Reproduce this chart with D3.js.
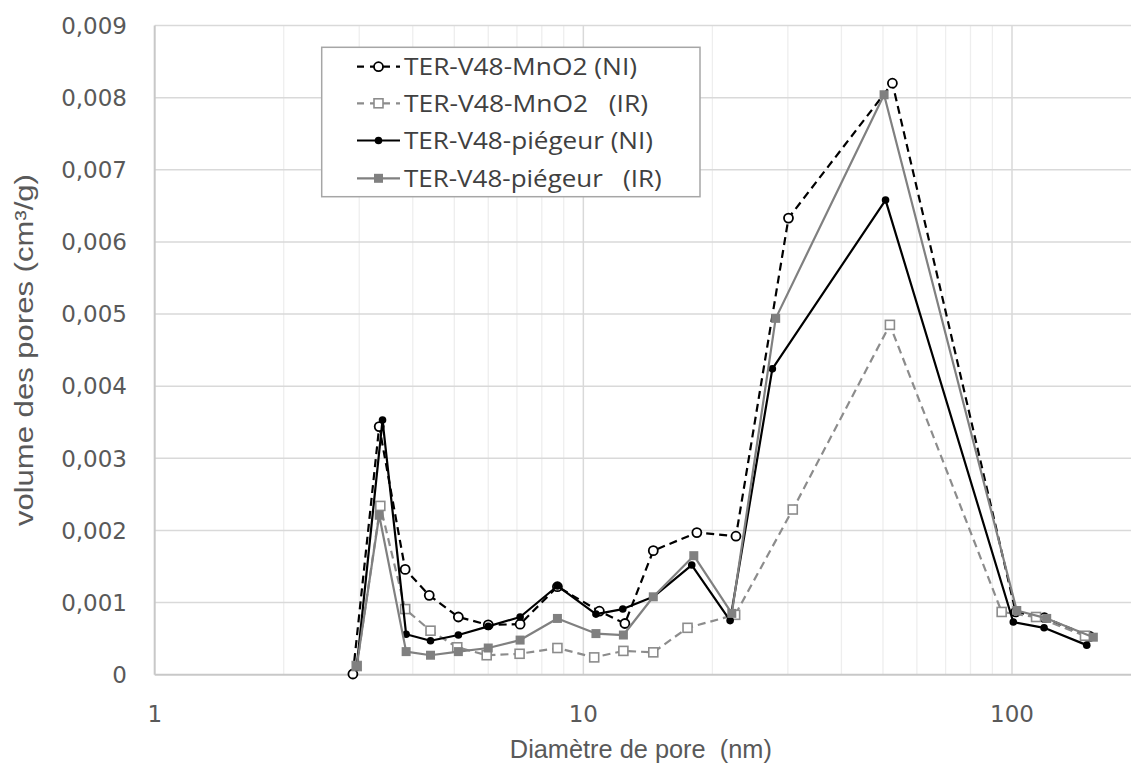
<!DOCTYPE html>
<html><head><meta charset="utf-8">
<script src="https://cdn.jsdelivr.net/npm/d3@7/dist/d3.min.js"></script>
<style>
html,body{margin:0;padding:0;background:#fff;}
svg{display:block;}
text{white-space:pre;}
</style></head>
<body>
<svg id="chart" width="1131" height="767"></svg>
<script>
// ---- data ----
const seriesNames = ["TER-V48-MnO2 (NI)", "TER-V48-MnO2   (IR)", "TER-V48-piégeur (NI)", "TER-V48-piégeur   (IR)"];
const mnO2NI_x = [2.9, 3.34, 3.84, 4.37, 5.11, 6.0, 7.12, 8.7, 10.9, 12.5, 14.56, 18.4, 22.7, 30.1, 52.6, 102, 119, 152];
const mnO2NI_y = [0.00001, 0.00344, 0.00146, 0.00110, 0.00080, 0.00069, 0.00070, 0.00122, 0.00088, 0.00071, 0.00172, 0.00197, 0.00192, 0.00633, 0.00820, 0.00087, 0.00079, 0.00053];
const mnO2IR_x = [2.96, 3.36, 3.84, 4.40, 5.08, 5.95, 7.1, 8.7, 10.6, 12.4, 14.56, 17.5, 22.6, 30.8, 51.9, 94.6, 113.8, 148];
const mnO2IR_y = [0.00012, 0.00234, 0.00091, 0.00061, 0.00038, 0.00027, 0.00029, 0.00037, 0.00024, 0.00033, 0.00031, 0.00065, 0.00083, 0.00229, 0.00485, 0.00087, 0.00080, 0.00054];
const piegeurNI_x = [2.96, 3.40, 3.86, 4.40, 5.11, 6.0, 7.12, 8.7, 10.7, 12.36, 14.56, 17.9, 22.0, 27.6, 50.7, 100.7, 118.8, 149.4];
const piegeurNI_y = [0.00011, 0.00353, 0.00056, 0.00047, 0.00055, 0.00067, 0.00080, 0.00123, 0.00084, 0.00091, 0.00108, 0.00152, 0.00075, 0.00424, 0.00658, 0.00073, 0.00065, 0.00041];
const piegeurIR_x = [2.96, 3.34, 3.86, 4.40, 5.11, 6.0, 7.12, 8.7, 10.7, 12.4, 14.56, 18.1, 22.2, 28.1, 50.3, 102.6, 120.5, 154.8];
const piegeurIR_y = [0.00012, 0.00221, 0.00032, 0.00027, 0.00032, 0.00037, 0.00048, 0.00078, 0.00057, 0.00055, 0.00108, 0.00165, 0.00085, 0.00494, 0.00804, 0.00089, 0.00078, 0.00052];
const yTicks = [0, 0.001, 0.002, 0.003, 0.004, 0.005, 0.006, 0.007, 0.008, 0.009];
const xTickLabels = [1, 10, 100];
const xTitle = "Diamètre de pore  (nm)";
const yTitle = "volume des pores (cm³/g)";

// ---- layout ----
const pLeft = 154.7, pTop = 25.5, pBottom = 674.7, pRight = 1131, decade = 428.65;
const svg = d3.select("#chart");
const x = d3.scaleLog().domain([1, 1000]).range([pLeft, pLeft + 3 * decade]);
const y = d3.scaleLinear().domain([0, 0.009]).range([pBottom, pTop]);

// minor vertical gridlines
const minor = [];
[1, 10, 100].forEach(d => { for (let k = 2; k <= 9; k++) minor.push(d * k); });
svg.append("g").selectAll("line").data(minor.filter(v => x(v) < pRight)).join("line")
  .attr("x1", d => x(d)).attr("x2", d => x(d)).attr("y1", pTop).attr("y2", pBottom)
  .attr("stroke", "#eeeeee").attr("stroke-width", 1.3);
// major vertical gridlines
svg.append("g").selectAll("line").data([10, 100]).join("line")
  .attr("x1", d => x(d)).attr("x2", d => x(d)).attr("y1", pTop).attr("y2", pBottom)
  .attr("stroke", "#d9d9d9").attr("stroke-width", 1.5);
// horizontal gridlines
svg.append("g").selectAll("line").data(yTicks.slice(1)).join("line")
  .attr("x1", pLeft).attr("x2", pRight).attr("y1", d => y(d)).attr("y2", d => y(d))
  .attr("stroke", "#d9d9d9").attr("stroke-width", 1.5);
// axis lines
svg.append("line").attr("x1", pLeft).attr("x2", pLeft).attr("y1", pTop).attr("y2", pBottom)
  .attr("stroke", "#c8c8c8").attr("stroke-width", 2);
svg.append("line").attr("x1", pLeft).attr("x2", pRight).attr("y1", pBottom).attr("y2", pBottom)
  .attr("stroke", "#c8c8c8").attr("stroke-width", 2);

// y tick labels
const fmt = v => v === 0 ? "0" : d3.format(".3f")(v).replace(".", ",");
svg.append("g").selectAll("text").data(yTicks).join("text")
  .attr("x", 127).attr("y", d => y(d)).attr("dy", "0.36em")
  .attr("text-anchor", "end").attr("font-family", "DejaVu Sans").attr("font-size", 23)
  .attr("fill", "#595959").text(fmt);
// x tick labels
svg.append("g").selectAll("text").data(xTickLabels).join("text")
  .attr("x", d => x(d)).attr("y", 722)
  .attr("text-anchor", "middle").attr("font-family", "DejaVu Sans").attr("font-size", 23)
  .attr("fill", "#595959").text(d => d);

// axis titles
svg.append("text").attr("x", (pLeft + pRight) / 2 - 2).attr("y", 758)
  .attr("text-anchor", "middle").attr("font-family", "Liberation Sans Narrow, Liberation Sans").attr("font-size", 25)
  .attr("fill", "#595959").attr("textLength", 262).attr("lengthAdjust", "spacingAndGlyphs").text(xTitle);
svg.append("text").attr("transform", `translate(33,${(pTop + pBottom) / 2}) rotate(-90)`)
  .attr("text-anchor", "middle").attr("font-family", "Liberation Sans Narrow, Liberation Sans").attr("font-size", 25)
  .attr("fill", "#595959").attr("textLength", 352).attr("lengthAdjust", "spacingAndGlyphs").text(yTitle);

// ---- series ----
const series = [
  {xs: mnO2NI_x, ys: mnO2NI_y, color: "#000000", dash: "8,5", marker: "circleOpen"},
  {xs: mnO2IR_x, ys: mnO2IR_y, color: "#8c8c8c", dash: "8,5", marker: "squareOpen"},
  {xs: piegeurNI_x, ys: piegeurNI_y, color: "#000000", dash: null, marker: "circleFilled"},
  {xs: piegeurIR_x, ys: piegeurIR_y, color: "#808080", dash: null, marker: "squareFilled"}
];
const line = d3.line().x(d => x(d[0])).y(d => y(d[1]));

function drawMarker(g, type, cx, cy, color) {
  if (type === "circleOpen") {
    g.append("circle").attr("cx", cx).attr("cy", cy).attr("r", 4.5)
      .attr("fill", "#fff").attr("stroke", color).attr("stroke-width", 1.8);
  } else if (type === "squareOpen") {
    g.append("rect").attr("x", cx - 4.5).attr("y", cy - 4.5).attr("width", 9).attr("height", 9)
      .attr("fill", "#fff").attr("stroke", color).attr("stroke-width", 1.6);
  } else if (type === "circleFilled") {
    g.append("circle").attr("cx", cx).attr("cy", cy).attr("r", 3.8).attr("fill", color);
  } else {
    g.append("rect").attr("x", cx - 4.5).attr("y", cy - 4.5).attr("width", 9).attr("height", 9)
      .attr("fill", color);
  }
}

series.forEach(s => {
  const pts = s.xs.map((v, i) => [v, s.ys[i]]);
  const g = svg.append("g");
  g.append("path").attr("d", line(pts)).attr("fill", "none")
    .attr("stroke", s.color).attr("stroke-width", 2.2)
    .attr("stroke-dasharray", s.dash).attr("stroke-linejoin", "round");
  pts.forEach(p => drawMarker(g, s.marker, x(p[0]), y(p[1]), s.color));
});

// ---- legend ----
const lg = svg.append("g");
lg.append("rect").attr("x", 321.7).attr("y", 47.3).attr("width", 378.3).attr("height", 149.4)
  .attr("fill", "#fff").attr("stroke", "#a6a6a6").attr("stroke-width", 1.5);
const rowY = [66.7, 103.3, 140.5, 178.3];
const textEnds = [637, 648, 653, 661.7];
series.forEach((s, i) => {
  const ry = rowY[i];
  lg.append("line").attr("x1", 357).attr("x2", 400).attr("y1", ry).attr("y2", ry)
    .attr("stroke", s.color).attr("stroke-width", 2.2).attr("stroke-dasharray", s.dash ? "7,6" : null);
  drawMarker(lg, s.marker, 378.5, ry, s.color);
  lg.append("text").attr("x", 404).attr("y", ry).attr("dy", "0.36em")
    .attr("font-family", "Open Sans").attr("font-size", 23).attr("fill", "#404040")
    .attr("textLength", textEnds[i] - 404).attr("lengthAdjust", "spacingAndGlyphs")
    .text(seriesNames[i]);
});
</script>
</body></html>
